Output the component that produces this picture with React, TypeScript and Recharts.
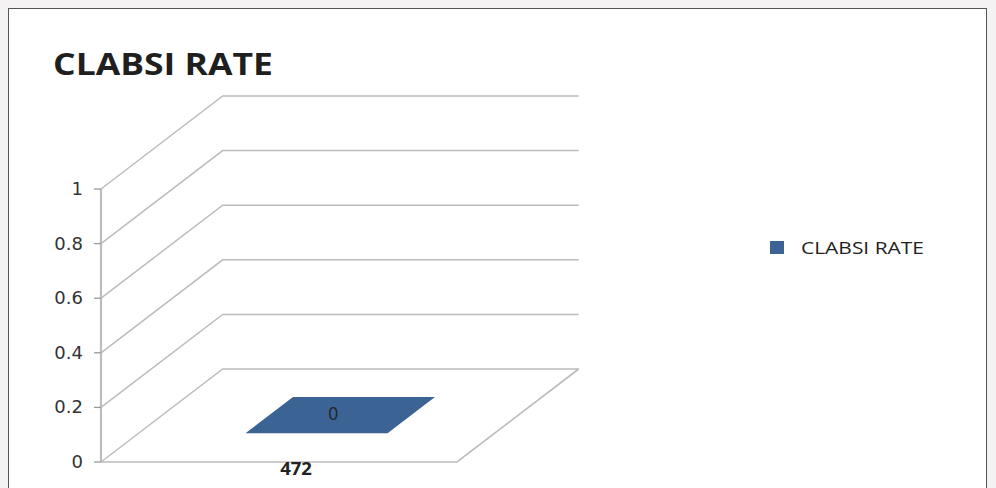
import React from 'react';
import { BarChart, Bar, XAxis, YAxis, CartesianGrid, LabelList } from 'recharts';

const categories = ['472'];
const clabsiRate = [0];
const yTicks = [0, 0.2, 0.4, 0.6, 0.8, 1];
const seriesName = 'CLABSI RATE';
const chartTitle = 'CLABSI RATE';

const data = categories.map((c, i) => ({ category: c, rate: clabsiRate[i] }));

const DX = 121.7;
const DY = 93;
const BAR_COLOR = '#3b6494';
const GRID = '#bcbcbc';
const F0 = 0.31;
const F1 = 0.7;

const GridLine = (props: any) => {
  const { x1, y1, x2, index } = props;
  const isFloor = index === 0;
  return (
    <g key={`g-${index}`}>
      <polyline
        points={`${x1},${y1} ${x1 + DX},${y1 - DY} ${x2 + DX},${y1 - DY}`}
        fill="none"
        stroke={GRID}
        strokeWidth={1.5}
      />
      {isFloor && (
        <polyline
          points={`${x1},${y1} ${x2},${y1} ${x2 + DX},${y1 - DY}`}
          fill="none"
          stroke={GRID}
          strokeWidth={1.7}
        />
      )}
    </g>
  );
};

const Bar3D = (props: any) => {
  const { x, y, width, height } = props;
  const h = Math.max(0, height || 0);
  const bottom = y + h;
  const fx = x + F0 * DX;
  const fy = F0 * DY;
  const bx = x + F1 * DX;
  const by = F1 * DY;
  const top = (
    <polygon
      points={`${fx},${y - fy} ${fx + width},${y - fy} ${bx + width},${y - by} ${bx},${y - by}`}
      fill={BAR_COLOR}
    />
  );
  return (
    <g>
      {h > 0 && (
        <>
          <rect x={fx} y={y - fy} width={width} height={h} fill={BAR_COLOR} />
          <polygon
            points={`${fx + width},${y - fy} ${bx + width},${y - by} ${bx + width},${bottom - by} ${fx + width},${bottom - fy}`}
            fill="#2e4f75"
          />
        </>
      )}
      {top}
    </g>
  );
};

const BarLabel = (props: any) => {
  const { x, y, width, value } = props;
  const cx = x + width / 2 + ((F0 + F1) / 2) * DX - 7;
  const cy = y - ((F0 + F1) / 2) * DY + 5;
  return (
    <text x={cx} y={cy} textAnchor="middle" fontFamily="'Open Sans', sans-serif" style={{ fontSize: 17.5 }} fill="#222">
      {value}
    </text>
  );
};

const XTick = (props: any) => {
  const { x, payload } = props;
  return (
    <text x={x + 17} y={475} textAnchor="middle" fontFamily="'Open Sans', sans-serif" style={{ fontSize: 18.5, fontWeight: 700 }} fill="#222">
      {payload.value}
    </text>
  );
};

const YTick = (props: any) => {
  const { x, y, payload } = props;
  return (
    <text x={x} y={y + 6} textAnchor="end" fontFamily="'DejaVu Sans', sans-serif" style={{ fontSize: 18 }} fill="#333">
      {payload.value}
    </text>
  );
};

export default function App() {
  return (
    <div style={{ position: 'absolute', left: 0, top: 0, width: 996, height: 488, background: '#f4f2f2', overflow: 'hidden' }}>
      <div
        style={{
          position: 'absolute',
          left: 8,
          top: 8,
          width: 979,
          height: 500,
          background: '#ffffff',
          border: '1px solid #555',
          boxSizing: 'border-box',
        }}
      />
      <div style={{ position: 'absolute', left: 0, top: 0 }}>
        <BarChart
          width={996}
          height={488}
          data={data}
          margin={{ top: 189, right: 539, bottom: 6, left: 41 }}
          barCategoryGap="30%"
        >
          <CartesianGrid vertical={false} horizontal={(p: any) => <GridLine {...p} />} />
          <YAxis
            type="number"
            domain={[0, 1]}
            ticks={yTicks}
            width={60}
            axisLine={{ stroke: '#bdbdbd', strokeWidth: 2.2 }}
            tickLine={{ stroke: '#9a9a9a', strokeWidth: 1.3 }}
            tickSize={7}
            tickMargin={11}
            tick={<YTick />}
          />
          <XAxis dataKey="category" height={20} axisLine={false} tickLine={false} tick={<XTick />} />
          <Bar dataKey="rate" name={seriesName} shape={<Bar3D />} isAnimationActive={false}>
            <LabelList dataKey="rate" content={<BarLabel />} />
          </Bar>
        </BarChart>
      </div>
      <svg width={996} height={488} style={{ position: 'absolute', left: 0, top: 0, pointerEvents: 'none' }}>
        <text x={53} y={75} fontFamily="'Open Sans', sans-serif" fontWeight={700} fontSize={30} fill="#1f1f1f" textLength={220} lengthAdjust="spacingAndGlyphs">
          {chartTitle}
        </text>
        <rect x={770} y={241} width={14} height={13} fill={BAR_COLOR} />
        <text x={801} y={254} fontFamily="'Open Sans', sans-serif" fontSize={16} fill="#222" textLength={123} lengthAdjust="spacingAndGlyphs">
          {seriesName}
        </text>
      </svg>
    </div>
  );
}
